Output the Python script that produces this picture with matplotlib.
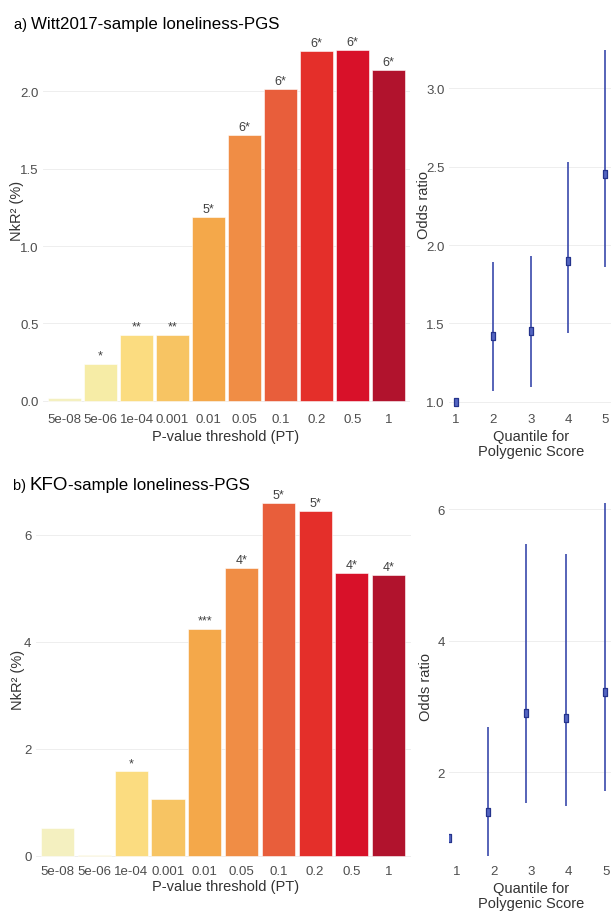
import matplotlib
matplotlib.use("Agg")
import matplotlib.pyplot as plt

plt.rcParams['font.family'] = ['Liberation Sans', 'DejaVu Sans']

# ---------------- data ----------------
thresholds = ["5e-08", "5e-06", "1e-04", "0.001", "0.01", "0.05", "0.1", "0.2", "0.5", "1"]
bar_colors = ["#f4f0c0", "#f6eca6", "#fbdc80", "#f7c463", "#f4a84a",
              "#f08d45", "#e85e3b", "#e42f2a", "#d81129", "#b1132d"]

witt_r2 = [0.016, 0.24, 0.427, 0.427, 1.186, 1.718, 2.016, 2.262, 2.27, 2.141]
witt_sig = ["", "*", "**", "**", "5*", "6*", "6*", "6*", "6*", "6*"]

kfo_r2 = [0.51, 0.02, 1.577, 1.054, 4.237, 5.377, 6.587, 6.437, 5.29, 5.25]
kfo_sig = ["", "", "*", "", "***", "4*", "5*", "5*", "4*", "4*"]

quantiles = [1, 2, 3, 4, 5]
witt_or = [1.0, 1.421, 1.453, 1.90, 2.454]
witt_lo = [1.0, 1.07, 1.092, 1.437, 1.858]
witt_hi = [1.0, 1.894, 1.932, 2.529, 3.248]

kfo_x = [0.80, 1.84, 2.87, 3.92, 4.97]
kfo_or = [1.0, 1.40, 2.90, 2.82, 3.227]
kfo_lo = [1.0, 0.73, 1.54, 1.49, 1.71]
kfo_hi = [1.0, 2.69, 5.475, 5.33, 6.10]

W, H = 611, 912
fig = plt.figure(figsize=(W / 100, H / 100), dpi=100)


def rect(left, right, top, bottom):
    return [left / W, 1 - bottom / H, (right - left) / W, (bottom - top) / H]


tick_color = "#4d4d4d"
grid_color = "#ebebeb"


def style(ax):
    for s in ax.spines.values():
        s.set_visible(False)
    ax.tick_params(length=0, colors=tick_color, labelsize=9.5, pad=3)
    ax.grid(axis='y', color=grid_color, linewidth=0.6)
    ax.set_axisbelow(True)


def bar_panel(ax, vals, sig, ylim, yticks, yticklabels):
    x = list(range(len(thresholds)))
    ax.bar(x, vals, width=0.9, color=bar_colors, edgecolor='white', linewidth=0.4)
    for xi, v, s in zip(x, vals, sig):
        if s:
            ax.annotate(s, (xi, v), xytext=(0, 1.5), textcoords='offset points',
                        ha='center', va='bottom', fontsize=9, color='#404040')
    ax.set_xlim(-0.6, len(thresholds) - 0.4)
    ax.set_ylim(*ylim)
    ax.set_xticks(x)
    ax.set_xticklabels(thresholds)
    ax.set_yticks(yticks)
    ax.set_yticklabels(yticklabels)
    style(ax)


def or_panel(ax, xs, ors, lo, hi, xlim, ylim, yticks, yticklabels):
    for xi, o, l, h in zip(xs, ors, lo, hi):
        if h > l:
            ax.plot([xi, xi], [l, h], color="#3949ab", linewidth=1.2, solid_capstyle='butt')
    marker = [(-0.62, -1), (0.62, -1), (0.62, 1), (-0.62, 1), (-0.62, -1)]
    ax.plot(xs, ors, linestyle='none', marker=marker, markersize=5.5,
            markerfacecolor="#5466c2", markeredgecolor="#25348c", markeredgewidth=0.9)
    ax.set_xlim(*xlim)
    ax.set_ylim(*ylim)
    ax.set_xticks(quantiles)
    ax.set_xticklabels([str(q) for q in quantiles])
    ax.set_yticks(yticks)
    ax.set_yticklabels(yticklabels)
    style(ax)


# ---- panel a ----
ax1 = fig.add_axes(rect(43, 410, 32, 410))
bar_panel(ax1, witt_r2, witt_sig, (-0.0537, 2.391),
          [0, 0.5, 1.0, 1.5, 2.0], ["0.0", "0.5", "1.0", "1.5", "2.0"])

ax2 = fig.add_axes(rect(448.5, 612.8, 32, 410))
or_panel(ax2, quantiles, witt_or, witt_lo, witt_hi, (0.8, 5.2), (0.953, 3.367),
         [1.0, 1.5, 2.0, 2.5, 3.0], ["1.0", "1.5", "2.0", "2.5", "3.0"])

# ---- panel b ----
ax3 = fig.add_axes(rect(35.6, 410.8, 490, 862))
bar_panel(ax3, kfo_r2, kfo_sig, (-0.099, 6.854), [0, 2, 4, 6], ["0", "2", "4", "6"])

ax4 = fig.add_axes(rect(449.2, 613.5, 490, 862))
or_panel(ax4, kfo_x, kfo_or, kfo_lo, kfo_hi, (0.8, 5.2), (0.650, 6.312),
         [2, 4, 6], ["2", "4", "6"])


def ftext(x, y, s, **kw):
    return fig.text(x / W, 1 - y / H, s, **kw)


lab_kw = dict(fontsize=10.5, color='#333333', ha='center', va='center')

# axis titles
ftext(226, 436.7, "P-value threshold (PT)", **lab_kw)
ftext(226, 886.7, "P-value threshold (PT)", **lab_kw)
ftext(17, 211, "NkR² (%)", rotation=90, **lab_kw)
ftext(18, 680, "NkR² (%)", rotation=90, **lab_kw)
ftext(424, 205, "Odds ratio", rotation=90, **lab_kw)
ftext(426, 686.7, "Odds ratio", rotation=90, **lab_kw)
ftext(531, 444.5, "Quantile for\nPolygenic Score", linespacing=1.05, **lab_kw)
ftext(531, 896.5, "Quantile for\nPolygenic Score", linespacing=1.05, **lab_kw)

# titles with mixed sizes
renderer = fig.canvas.get_renderer()


def title_parts(x0, baseline, parts):
    x = x0
    for s, size in parts:
        t = ftext(x, baseline, s, fontsize=size, color='black', ha='left', va='baseline')
        bb = t.get_window_extent(renderer=renderer)
        x += bb.width


title_parts(14, 29.3, [("a) ", 10.5), ("Witt2017-sample loneliness-PGS", 12.2)])
title_parts(12.7, 490, [("b) ", 10.5), ("KFO", 13.5), ("-sample loneliness-PGS", 12.2)])

fig.savefig("out.png", dpi=100)
